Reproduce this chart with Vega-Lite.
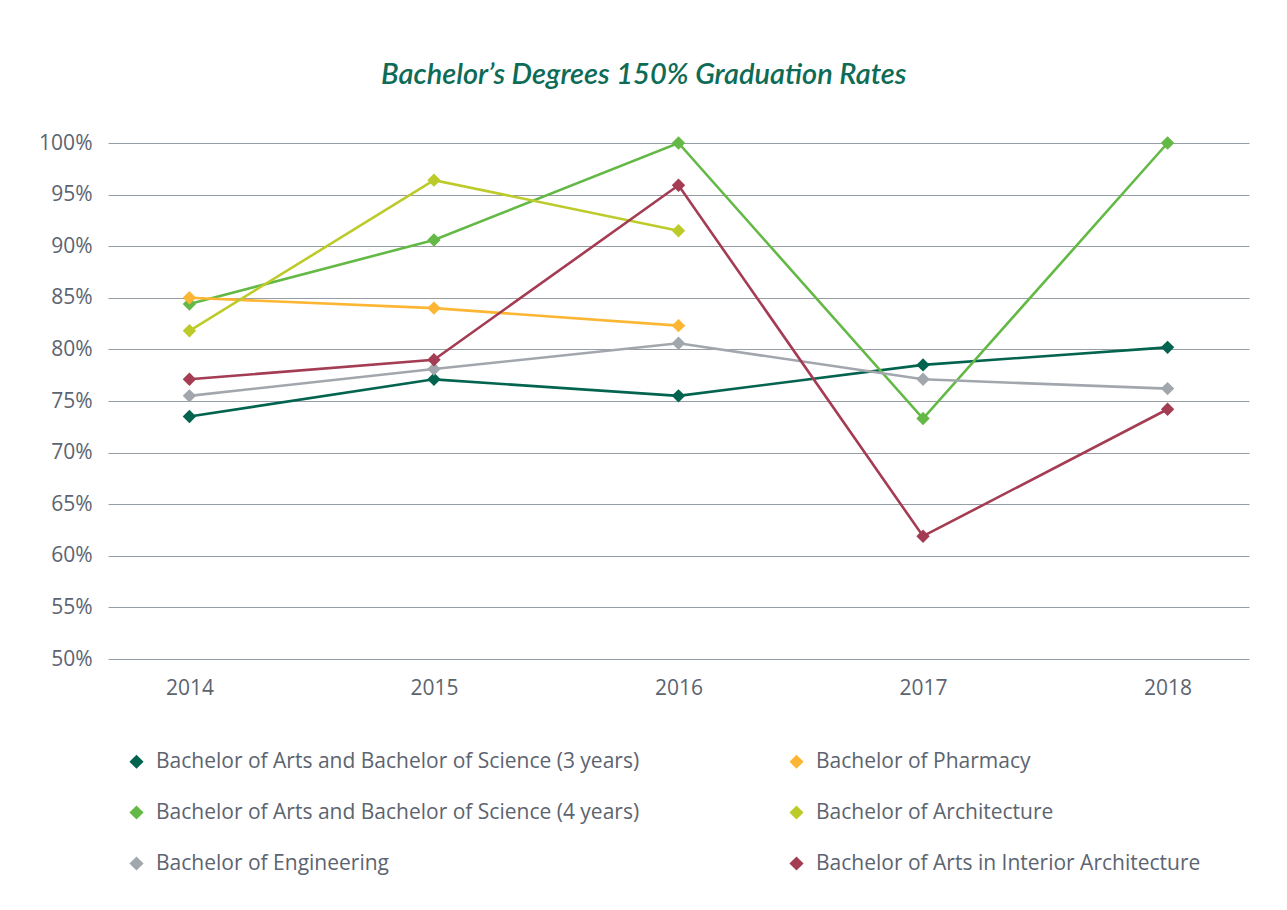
{
  "$schema": "https://vega.github.io/schema/vega-lite/v6.json",
  "autosize": {"type": "none"},
  "width": 1141,
  "height": 516,
  "padding": {"left": 108, "top": 143, "right": 38, "bottom": 251},
  "background": "white",
  "title": {
    "text": "Bachelor’s Degrees 150% Graduation Rates",
    "font": "Lato",
    "fontSize": 29,
    "fontStyle": "italic",
    "fontWeight": 600,
    "color": "#0d6b56",
    "anchor": "middle",
    "frame": "bounds",
    "offset": 42
  },
  "data": {
    "values": [
      {"year": "2014", "program": "Bachelor of Arts and Bachelor of Science (3 years)", "rate": 73.5},
      {"year": "2015", "program": "Bachelor of Arts and Bachelor of Science (3 years)", "rate": 77.1},
      {"year": "2016", "program": "Bachelor of Arts and Bachelor of Science (3 years)", "rate": 75.5},
      {"year": "2017", "program": "Bachelor of Arts and Bachelor of Science (3 years)", "rate": 78.5},
      {"year": "2018", "program": "Bachelor of Arts and Bachelor of Science (3 years)", "rate": 80.2},
      {"year": "2014", "program": "Bachelor of Arts and Bachelor of Science (4 years)", "rate": 84.4},
      {"year": "2015", "program": "Bachelor of Arts and Bachelor of Science (4 years)", "rate": 90.6},
      {"year": "2016", "program": "Bachelor of Arts and Bachelor of Science (4 years)", "rate": 100},
      {"year": "2017", "program": "Bachelor of Arts and Bachelor of Science (4 years)", "rate": 73.3},
      {"year": "2018", "program": "Bachelor of Arts and Bachelor of Science (4 years)", "rate": 100},
      {"year": "2014", "program": "Bachelor of Engineering", "rate": 75.5},
      {"year": "2015", "program": "Bachelor of Engineering", "rate": 78.1},
      {"year": "2016", "program": "Bachelor of Engineering", "rate": 80.6},
      {"year": "2017", "program": "Bachelor of Engineering", "rate": 77.1},
      {"year": "2018", "program": "Bachelor of Engineering", "rate": 76.2},
      {"year": "2014", "program": "Bachelor of Pharmacy", "rate": 85.0},
      {"year": "2015", "program": "Bachelor of Pharmacy", "rate": 84.0},
      {"year": "2016", "program": "Bachelor of Pharmacy", "rate": 82.3},
      {"year": "2014", "program": "Bachelor of Architecture", "rate": 81.8},
      {"year": "2015", "program": "Bachelor of Architecture", "rate": 96.4},
      {"year": "2016", "program": "Bachelor of Architecture", "rate": 91.5},
      {"year": "2014", "program": "Bachelor of Arts in Interior Architecture", "rate": 77.1},
      {"year": "2015", "program": "Bachelor of Arts in Interior Architecture", "rate": 79.0},
      {"year": "2016", "program": "Bachelor of Arts in Interior Architecture", "rate": 95.9},
      {"year": "2017", "program": "Bachelor of Arts in Interior Architecture", "rate": 61.9},
      {"year": "2018", "program": "Bachelor of Arts in Interior Architecture", "rate": 74.2}
    ]
  },
  "encoding": {
    "x": {
      "field": "year",
      "type": "ordinal",
      "scale": {"type": "point", "padding": 0.333},
      "axis": {
        "title": null,
        "labelAngle": 0,
        "domain": false,
        "ticks": false,
        "labelPadding": 18,
        "labelFont": "Open Sans",
        "labelFontSize": 21,
        "labelColor": "#5c6470"
      }
    },
    "y": {
      "field": "rate",
      "type": "quantitative",
      "scale": {"domain": [50, 100], "nice": false, "zero": false},
      "axis": {
        "title": null,
        "values": [50, 55, 60, 65, 70, 75, 80, 85, 90, 95, 100],
        "labelExpr": "datum.value + '%'",
        "domain": false,
        "ticks": false,
        "labelPadding": 16,
        "labelFont": "Open Sans",
        "labelFontSize": 21,
        "labelColor": "#5c6470",
        "gridColor": "#979da4",
        "gridWidth": 1.2
      }
    },
    "color": {
      "field": "program",
      "type": "nominal",
      "scale": {
        "domain": [
          "Bachelor of Arts and Bachelor of Science (3 years)",
          "Bachelor of Arts and Bachelor of Science (4 years)",
          "Bachelor of Engineering",
          "Bachelor of Pharmacy",
          "Bachelor of Architecture",
          "Bachelor of Arts in Interior Architecture"
        ],
        "range": ["#02644f", "#64b946", "#a2a7ae", "#fdb633", "#bccb2a", "#a43c53"]
      },
      "legend": {
        "title": null,
        "orient": "none",
        "legendX": 18,
        "legendY": 608,
        "columns": 2,
        "columnPadding": 146,
        "rowPadding": 29,
        "symbolType": "diamond",
        "symbolSize": 200,
        "symbolStrokeWidth": 0,
        "labelFont": "Open Sans",
        "labelFontSize": 21,
        "labelColor": "#5c6470",
        "labelOffset": 9,
        "labelLimit": 700
      }
    }
  },
  "layer": [
    {"mark": {"type": "line", "strokeWidth": 2.6}},
    {"mark": {"type": "point", "shape": "diamond", "filled": true, "size": 180, "opacity": 1}}
  ],
  "config": {
    "view": {"stroke": null}
  }
}
